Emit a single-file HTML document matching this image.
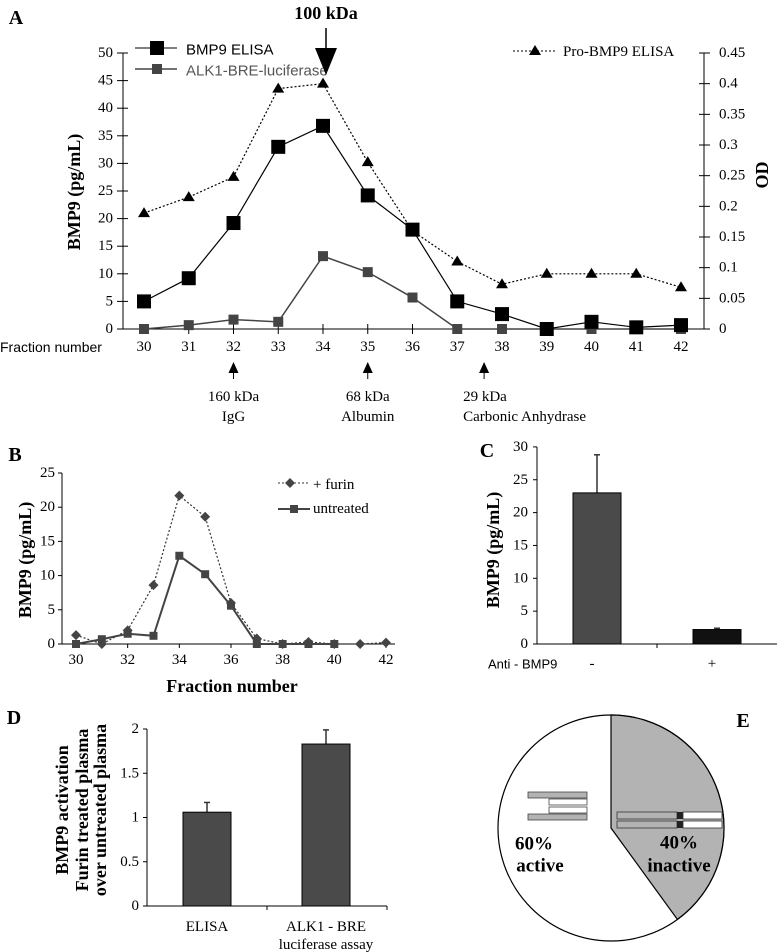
<!DOCTYPE html>
<html><head><meta charset="utf-8"><style>
html,body{margin:0;padding:0;background:#fff}
svg{display:block;font-family:"Liberation Serif",serif}
</style></head><body>
<svg id="fig" width="777" height="952" viewBox="0 0 777 952" xmlns="http://www.w3.org/2000/svg">
<g id="A"></g>
<g id="B"></g>
<g id="C"></g>
<g id="D"></g>
<g id="E"></g>
</svg>
<script>
// ---- Panel A data
const fractionsA = [30,31,32,33,34,35,36,37,38,39,40,41,42];
const elisaA = [5,9.2,19.2,33,36.8,24.2,18,5,2.7,0,1.3,0.3,0.7];
const alk1A = [0,0.7,1.7,1.3,13.2,10.3,5.7,0,0,0,0,0,0];
const proOD = [0.189,0.215,0.248,0.392,0.4,0.272,0.16,0.11,0.073,0.09,0.09,0.09,0.068];
const leftTicksA = [0,5,10,15,20,25,30,35,40,45,50];
const rightTicksA = ["0","0.05","0.1","0.15","0.2","0.25","0.3","0.35","0.4","0.45"];
// ---- Panel B data
const fractionsB = [30,31,32,33,34,35,36,37,38,39,40,41,42];
const furinB = [1.3,0,2,8.6,21.7,18.6,6,0.8,0,0.3,0,0,0.2];
const untreatedB = [0,0.7,1.5,1.2,12.9,10.2,5.6,0,0,0,0];
const yTicksB = [0,5,10,15,20,25];
const xTicksB = [30,32,34,36,38,40,42];
// ---- Panel C data
const catsC = ["-","+"];
const valsC = [23,2.2];
const errC = [28.8,2.4];
const yTicksC = [0,5,10,15,20,25,30];
// ---- Panel D data
const catsD = ["ELISA","ALK1 - BRE"];
const valsD = [1.06,1.83];
const errD = [1.17,1.99];
const yTicksD = ["0","0.5","1","1.5","2"];
// ---- Panel E data
const pieVals = [40,60];

const NS="http://www.w3.org/2000/svg";
function el(parent,tag,attrs,text){const e=document.createElementNS(NS,tag);for(const k in attrs)e.setAttribute(k,attrs[k]);if(text!==undefined)e.textContent=text;parent.appendChild(e);return e;}
function txt(p,x,y,s,size,opt){opt=opt||{};const t=el(p,'text',{x:x,y:y,'font-size':size,'text-anchor':opt.a||'middle','dominant-baseline':'central','font-weight':opt.b?'bold':'normal',fill:opt.f||'#000','font-family':opt.ff||'"Liberation Serif",serif'},s);if(opt.r)t.setAttribute('transform','rotate(-90 '+x+' '+y+')');return t;}

// ===== Panel A
const A=document.getElementById('A');
const ax=f=>144+(f-30)*44.75, ayL=v=>329-v*5.52, ayR=v=>329-v*(276/0.45);
let t=txt(A,16,18,'A',20,{b:true});
el(A,'line',{x1:123,y1:53,x2:123,y2:329,stroke:'#000'});
el(A,'line',{x1:704,y1:53,x2:704,y2:329,stroke:'#000'});
el(A,'line',{x1:123,y1:329,x2:704,y2:329,stroke:'#000'});
leftTicksA.forEach(v=>{el(A,'line',{x1:117,y1:ayL(v),x2:128,y2:ayL(v),stroke:'#000'});
 t=txt(A,113,ayL(v),String(v),15,{a:'end'});});
rightTicksA.forEach((s,i)=>{const v=i*0.05;el(A,'line',{x1:699,y1:ayR(v),x2:710,y2:ayR(v),stroke:'#000'});
 t=txt(A,719,ayR(v),s,15,{a:'start'});});
fractionsA.forEach(f=>{el(A,'line',{x1:ax(f),y1:324,x2:ax(f),y2:334,stroke:'#000'});
 t=txt(A,ax(f),347,String(f),15);});
t=txt(A,0,347,'Fraction number',14,{a:'start',ff:'"Liberation Sans",sans-serif'});
t=txt(A,74,192,'BMP9 (pg/mL)',18,{b:true,r:true});
t=txt(A,762,175,'OD',18,{b:true,r:true});
// pro-BMP9 dotted
el(A,'polyline',{points:fractionsA.map((f,i)=>ax(f)+','+ayR(proOD[i])).join(' '),fill:'none',stroke:'#000','stroke-dasharray':'2,2','stroke-width':1.2});
fractionsA.forEach((f,i)=>{const x=ax(f),y=ayR(proOD[i]);const m=el(A,'polygon',{points:`${x},${y-6} ${x-6},${y+4} ${x+6},${y+4}`,fill:'#000'});
 });
el(A,'polyline',{points:fractionsA.map((f,i)=>ax(f)+','+ayL(alk1A[i])).join(' '),fill:'none',stroke:'#444','stroke-width':1.5});
fractionsA.forEach((f,i)=>{const m=el(A,'rect',{x:ax(f)-5,y:ayL(alk1A[i])-5,width:10,height:10,fill:'#444'});
 });
el(A,'polyline',{points:fractionsA.map((f,i)=>ax(f)+','+ayL(elisaA[i])).join(' '),fill:'none',stroke:'#000','stroke-width':1.2});
fractionsA.forEach((f,i)=>{const m=el(A,'rect',{x:ax(f)-7,y:ayL(elisaA[i])-7,width:14,height:14,fill:'#000'});
 });
// legends
el(A,'line',{x1:135,y1:48,x2:177,y2:48,stroke:'#000'});el(A,'rect',{x:150,y:41,width:14,height:14,fill:'#000'});
t=txt(A,186,50,'BMP9 ELISA',15,{a:'start',ff:'"Liberation Sans",sans-serif'});
el(A,'line',{x1:135,y1:69,x2:177,y2:69,stroke:'#444','stroke-width':1.5});el(A,'rect',{x:152,y:64,width:10,height:10,fill:'#444'});
t=txt(A,186,71,'ALK1-BRE-luciferase',15,{a:'start',f:'#555',ff:'"Liberation Sans",sans-serif'});
el(A,'line',{x1:513,y1:51,x2:555,y2:51,stroke:'#000','stroke-dasharray':'2,2'});el(A,'polygon',{points:'535,45 529,55 541,55',fill:'#000'});
t=txt(A,563,52,'Pro-BMP9 ELISA',15,{a:'start'});
// 100 kDa arrow
t=txt(A,326,13,'100 kDa',18,{b:true});
el(A,'line',{x1:326,y1:28,x2:326,y2:52,stroke:'#000','stroke-width':1.5});
el(A,'polygon',{points:'315,48 337,48 326,75',fill:'#000'});
// standards
[[32,'160 kDa','IgG',0],[35,'68 kDa','Albumin',0],[37.6,'29 kDa','Carbonic Anhydrase',1]].forEach(s=>{const x=ax(s[0]);
 el(A,'polygon',{points:`${x},362 ${x-5},373 ${x+5},373`,fill:'#000'});el(A,'line',{x1:x,y1:372,x2:x,y2:379,stroke:'#000'});
 const a=s[3]?'start':'middle', xx=s[3]?x-21:x;
 let q=txt(A,xx,397,s[1],15,{a:a});
 q=txt(A,xx,417,s[2],15,{a:a});});

// ===== Panel B
const B=document.getElementById('B');
const bx=f=>76+(f-30)*25.83, by=v=>644-v*6.84;
t=txt(B,15,455,'B',20,{b:true});
el(B,'line',{x1:62,y1:473,x2:62,y2:644,stroke:'#000'});el(B,'line',{x1:62,y1:644,x2:395,y2:644,stroke:'#000'});
yTicksB.forEach(v=>{el(B,'line',{x1:58,y1:by(v),x2:62,y2:by(v),stroke:'#000'});t=txt(B,55,by(v),String(v),15,{a:'end'});});
xTicksB.forEach(v=>{el(B,'line',{x1:bx(v),y1:644,x2:bx(v),y2:648,stroke:'#000'});t=txt(B,bx(v),660,String(v),15);});
t=txt(B,232,686,'Fraction number',18,{b:true});
t=txt(B,25,560,'BMP9 (pg/mL)',18,{b:true,r:true});
el(B,'polyline',{points:furinB.map((v,i)=>bx(fractionsB[i])+','+by(v)).join(' '),fill:'none',stroke:'#333','stroke-dasharray':'2,2','stroke-width':1.2});
furinB.forEach((v,i)=>{const x=bx(fractionsB[i]),y=by(v);const m=el(B,'polygon',{points:`${x},${y-5} ${x+5},${y} ${x},${y+5} ${x-5},${y}`,fill:'#444'});});
el(B,'polyline',{points:untreatedB.map((v,i)=>bx(fractionsB[i])+','+by(v)).join(' '),fill:'none',stroke:'#444','stroke-width':2});
untreatedB.forEach((v,i)=>{const m=el(B,'rect',{x:bx(fractionsB[i])-4,y:by(v)-4,width:8,height:8,fill:'#444'});});
el(B,'line',{x1:278,y1:483,x2:310,y2:483,stroke:'#333','stroke-dasharray':'2,2'});el(B,'polygon',{points:'290,478 295,483 290,488 285,483',fill:'#444'});
t=txt(B,313,485,'+ furin',15,{a:'start'});
el(B,'line',{x1:278,y1:509,x2:310,y2:509,stroke:'#444','stroke-width':2});el(B,'rect',{x:290,y:505,width:8,height:8,fill:'#444'});
t=txt(B,313,509,'untreated',15,{a:'start'});

// ===== Panel C
const C=document.getElementById('C');
const cy=v=>644-v*6.57, cx=[597,717];
t=txt(C,487,451,'C',20,{b:true});
el(C,'line',{x1:537,y1:447,x2:537,y2:644,stroke:'#000'});el(C,'line',{x1:537,y1:644,x2:777,y2:644,stroke:'#000'});
el(C,'line',{x1:657,y1:644,x2:657,y2:648,stroke:'#000'});
yTicksC.forEach(v=>{el(C,'line',{x1:533,y1:cy(v),x2:537,y2:cy(v),stroke:'#000'});t=txt(C,528,cy(v),String(v),15,{a:'end'});});
t=txt(C,493,550,'BMP9 (pg/mL)',18,{b:true,r:true});
valsC.forEach((v,i)=>{el(C,'line',{x1:cx[i],y1:cy(v),x2:cx[i],y2:cy(errC[i]),stroke:'#333','stroke-width':1.5});el(C,'line',{x1:cx[i]-3,y1:cy(errC[i]),x2:cx[i]+3,y2:cy(errC[i]),stroke:'#333','stroke-width':1.5});
 const b=el(C,'rect',{x:cx[i]-24,y:cy(v),width:48,height:644-cy(v),fill:i?'#111':'#4a4a4a',stroke:'#000'});
 t=txt(C,cx[i]-(i?5:5),664,catsC[i],15);});
t=txt(C,488,664,'Anti - BMP9',13,{a:'start',ff:'"Liberation Sans",sans-serif'});

// ===== Panel D
const D=document.getElementById('D');
const dy=v=>906-v*88.5, dx=[207,326];
t=txt(D,14,718,'D',20,{b:true});
el(D,'line',{x1:147,y1:729,x2:147,y2:906,stroke:'#000'});el(D,'line',{x1:147,y1:906,x2:387,y2:906,stroke:'#000'});
el(D,'line',{x1:267,y1:906,x2:267,y2:910,stroke:'#000'});el(D,'line',{x1:387,y1:906,x2:387,y2:910,stroke:'#000'});
yTicksD.forEach((s,i)=>{const v=i*0.5;el(D,'line',{x1:143,y1:dy(v),x2:147,y2:dy(v),stroke:'#000'});t=txt(D,139,dy(v),s,15,{a:'end'});});
[['BMP9 activation',62],['Furin treated plasma',82],['over untreated plasma',100]].forEach(r=>{t=txt(D,r[1],810,r[0],18,{b:true,r:true});});
valsD.forEach((v,i)=>{el(D,'line',{x1:dx[i],y1:dy(v),x2:dx[i],y2:dy(errD[i]),stroke:'#333','stroke-width':1.5});el(D,'line',{x1:dx[i]-3,y1:dy(errD[i]),x2:dx[i]+3,y2:dy(errD[i]),stroke:'#333','stroke-width':1.5});
 const b=el(D,'rect',{x:dx[i]-24,y:dy(v),width:48,height:906-dy(v),fill:'#4a4a4a',stroke:'#000'});
 t=txt(D,dx[i],927,catsD[i],15);});
t=txt(D,326,945,'luciferase assay',15);

// ===== Panel E
const E=document.getElementById('E');
t=txt(E,743,721,'E',20,{b:true});
const pcx=611,pcy=828,R=113;
el(E,'circle',{cx:pcx,cy:pcy,r:R,fill:'#fff',stroke:'#000','stroke-width':1.2});
const ang=pieVals[0]/100*2*Math.PI;
const ex=pcx+R*Math.sin(ang), ey=pcy-R*Math.cos(ang);
const sl=el(E,'path',{d:`M${pcx},${pcy} L${pcx},${pcy-R} A${R},${R} 0 ${ang>Math.PI?1:0} 1 ${ex},${ey} Z`,fill:'#b3b3b3',stroke:'#000','stroke-width':1.2});

// inactive glyph
[[812],[821]].forEach(r=>{el(E,'rect',{x:617,y:r[0],width:60,height:7,fill:'#b3b3b3',stroke:'#333','stroke-width':0.8});el(E,'rect',{x:677,y:r[0],width:6,height:7,fill:'#222'});el(E,'rect',{x:683,y:r[0],width:39,height:7,fill:'#fff',stroke:'#333','stroke-width':0.8});});
// active glyph
el(E,'rect',{x:528,y:792,width:59,height:6,fill:'#b3b3b3',stroke:'#444','stroke-width':0.8});
el(E,'rect',{x:549,y:799,width:38,height:6,fill:'#fff',stroke:'#444','stroke-width':0.8});
el(E,'rect',{x:549,y:807,width:38,height:6,fill:'#fff',stroke:'#444','stroke-width':0.8});
el(E,'rect',{x:528,y:814,width:59,height:6,fill:'#b3b3b3',stroke:'#444','stroke-width':0.8});
t=txt(E,534,844,'60%',19,{b:true});
t=txt(E,540,866,'active',19,{b:true});
t=txt(E,679,843,'40%',19,{b:true});
t=txt(E,679,866,'inactive',19,{b:true});
</script>
</body></html>
